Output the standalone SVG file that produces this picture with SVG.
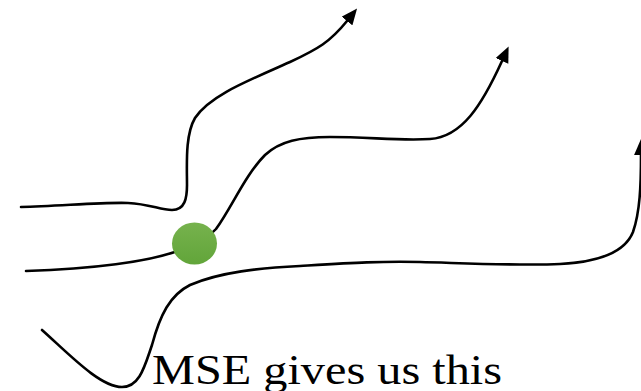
<svg xmlns="http://www.w3.org/2000/svg" width="641" height="391" viewBox="0 0 641 391">
<style>
.curve{fill:none;stroke:#000;stroke-width:2.6;stroke-linecap:round;stroke-linejoin:round}
.label{font-family:"Liberation Serif","Times New Roman",serif;font-size:42px;fill:#000}
</style>
<defs>
<marker id="arrow" markerUnits="userSpaceOnUse" markerWidth="16" markerHeight="14" viewBox="0 0 15 13" refX="0" refY="6.5" orient="auto">
<path d="M0,0 L15,6.5 L0,13 z" fill="#000"/>
</marker>
<linearGradient id="green" x1="0" y1="0" x2="0" y2="1">
<stop offset="0" stop-color="#76b24d"/>
<stop offset="1" stop-color="#62a53a"/>
</linearGradient>
</defs>
<rect width="641" height="391" fill="#fff"/>
<g id="connectors">
<path id="curve-top" class="curve" marker-end="url(#arrow)" d="M21,207 C60,206 105,202 128,203 C150,204 160,210 172,210 C185,210 187,198 187,185 C187,165 185,135 195,118 C210,95 250,80 290,62 C318,49 330,42 347,21"/>
<path id="curve-mid" class="curve" marker-end="url(#arrow)" d="M26,271 C90,269 150,262 180,250 C200,242 208,238 216,229 C232,207 245,175 265,155 C280,141 300,137 330,137 C370,137 400,141 430,139 C462,137 482,105 502,61"/>
<path id="curve-low" class="curve" marker-end="url(#arrow)" d="M42,330 C70,355 100,387 122,387 C140,387 145,365 152,345 C160,315 170,295 190,285 C220,272 260,268 300,266 C350,263 380,261 420,262 C460,263 520,266 560,264 C600,262 625,252 633,232 C640,212 641,185 641,155"/>
</g>
<g id="point">
<ellipse cx="194.5" cy="243.5" rx="22.5" ry="21" fill="url(#green)"/>
</g>
<g id="caption">
<text class="label" x="152" y="384" textLength="350" lengthAdjust="spacingAndGlyphs">MSE gives us this</text>
</g>
</svg>
